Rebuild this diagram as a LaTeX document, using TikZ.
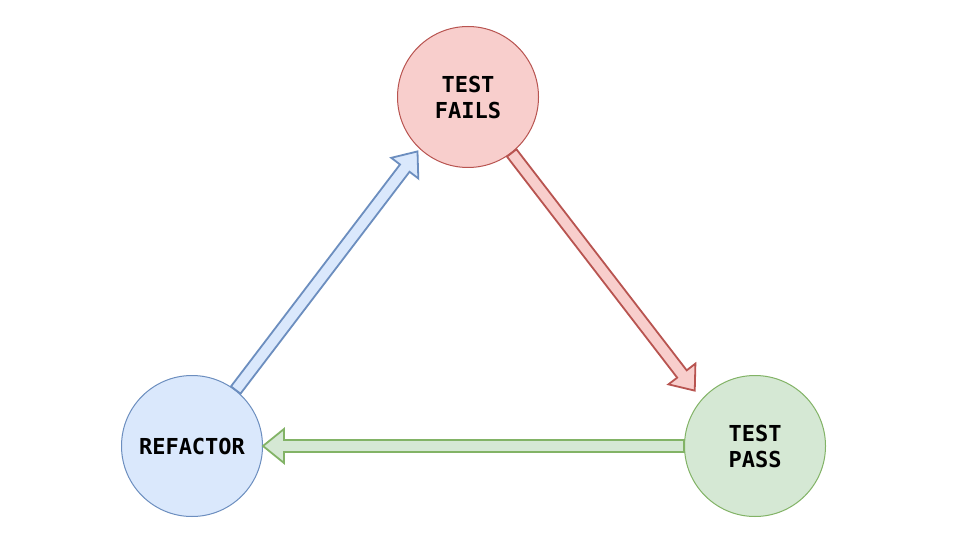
\documentclass[tikz,border=0pt]{standalone}
\usepackage{fontspec}
\newfontfamily\lblfont{DejaVu Sans Mono}
\begin{document}
\begin{tikzpicture}[x=1pt,y=-1pt,
  circ/.style={circle,minimum size=141pt,line width=1pt,inner sep=0pt,align=center,
    font=\lblfont\bfseries\fontsize{22}{26}\selectfont},
  redc/.style={circ,fill={rgb,255:red,248;green,206;blue,204},draw={rgb,255:red,184;green,84;blue,80}},
  bluec/.style={circ,fill={rgb,255:red,218;green,232;blue,252},draw={rgb,255:red,108;green,142;blue,191}},
  greenc/.style={circ,fill={rgb,255:red,213;green,232;blue,212},draw={rgb,255:red,130;green,179;blue,102}},
  blk/.style={line width=1.8pt,line join=miter}]
\useasboundingbox (0,0) rectangle (960,540);
\fill[white] (0,0) rectangle (960,540);
\node[redc] (f) at (468,97) {TEST\\FAILS};
\node[bluec] (r) at (192,446) {REFACTOR};
\node[greenc] (p) at (755,446) {TEST\\PASS};
\newcommand{\blockarrow}[4]{% start, angle, length, style
  \begin{scope}[shift={#1},rotate=#2]
  \draw[#4] (0,-6) -- (#3-21,-6) -- (#3-21,-17) -- (#3,0) -- (#3-21,17) -- (#3-21,6) -- (0,6) -- cycle;
  \end{scope}}
\blockarrow{(r.52.7)}{52.7}{300}{blk,fill={rgb,255:red,218;green,232;blue,252},draw={rgb,255:red,108;green,142;blue,191}}
\blockarrow{(f.-52.4)}{-52.4}{300}{blk,fill={rgb,255:red,248;green,206;blue,204},draw={rgb,255:red,184;green,84;blue,80}}
\blockarrow{(p.west)}{180}{421}{blk,fill={rgb,255:red,213;green,232;blue,212},draw={rgb,255:red,130;green,179;blue,102}}
\end{tikzpicture}
\end{document}
